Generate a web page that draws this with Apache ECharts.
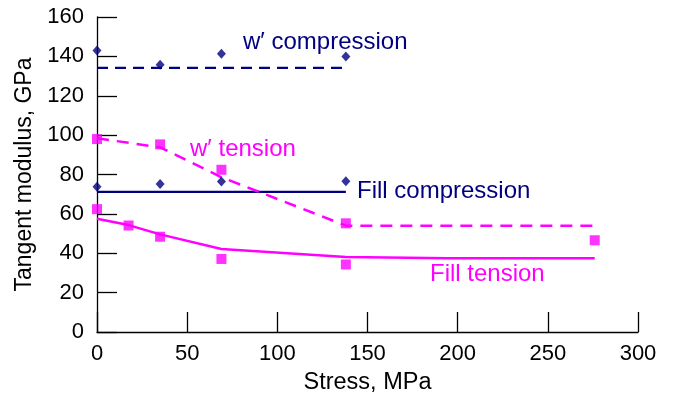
<!DOCTYPE html>
<html>
<head>
<meta charset="utf-8">
<script src="https://cdn.jsdelivr.net/npm/echarts@6/dist/echarts.min.js"></script>
<style>
html,body{margin:0;padding:0;background:#fff;}
#c{width:674px;height:400px;}
</style>
</head>
<body>
<div id="c"></div>
<script>
// Measured points
var wCompX = [0, 35, 69, 138];
var wCompY = [143, 135.7, 141.3, 140];
var wTenX = [0, 35, 69, 138, 276];
var wTenY = [98, 95.3, 82.4, 55.2, 46.6];
var fCompX = [0, 35, 69, 138];
var fCompY = [73.8, 75.2, 76.4, 76.6];
var fTenX = [0, 17.5, 35, 69, 138];
var fTenY = [62.4, 54.1, 48.4, 37.1, 34.3];

// Fitted curves
var wCompFitX = [0, 138];
var wCompFitY = [134.2, 134.2];
var wTenFitX = [0, 35, 69, 138, 276];
var wTenFitY = [98.4, 93.8, 78.6, 54, 54];
var fCompFitX = [0, 138];
var fCompFitY = [71.2, 71.2];
var fTenFitX = [0, 17.5, 35, 69, 138, 195, 276];
var fTenFitY = [57.5, 54.3, 49.6, 42.2, 38.1, 37.5, 37.5];

var xTicks = [0, 50, 100, 150, 200, 250, 300];
var yTicks = [0, 20, 40, 60, 80, 100, 120, 140, 160];

var labels = [
  {text: 'w\u2032 compression', color: '#000080', x: 243, y: 42},
  {text: 'w\u2032 tension', color: '#FF00FF', x: 190, y: 149},
  {text: 'Fill compression', color: '#000080', x: 357, y: 191},
  {text: 'Fill tension', color: '#FF00FF', x: 430, y: 274}
];

function pairs(xs, ys) { return xs.map(function (x, i) { return [x, ys[i]]; }); }

var NAVY = '#000080', MAG = '#FF00FF';
var FONT = 'Liberation Sans, Arial, sans-serif';

var chart = echarts.init(document.getElementById('c'), null, {renderer: 'canvas'});
chart.setOption({
  animation: false,
  backgroundColor: '#ffffff',
  grid: {left: 97, right: 36, top: 17, bottom: 67, containLabel: false},
  xAxis: {
    type: 'value', min: xTicks[0], max: xTicks[xTicks.length - 1], interval: 50,
    name: 'Stress, MPa', nameLocation: 'middle', nameGap: 39,
    nameTextStyle: {fontFamily: FONT, fontSize: 23.5, color: '#000'},
    axisLine: {show: true, lineStyle: {color: '#000', width: 1.3}},
    axisTick: {show: true, inside: true, length: 20, lineStyle: {color: '#000', width: 1.3}},
    axisLabel: {fontFamily: FONT, fontSize: 22, color: '#000', margin: 11},
    splitLine: {show: false}
  },
  yAxis: {
    type: 'value', min: yTicks[0], max: yTicks[yTicks.length - 1], interval: 20,
    name: 'Tangent modulus, GPa', nameLocation: 'middle', nameGap: 54,
    nameTextStyle: {fontFamily: FONT, fontSize: 23, color: '#000'},
    axisLine: {show: true, lineStyle: {color: '#000', width: 1.3}},
    axisTick: {show: true, inside: true, length: 20, lineStyle: {color: '#000', width: 1.3}},
    axisLabel: {fontFamily: FONT, fontSize: 22, color: '#000', margin: 13},
    splitLine: {show: false}
  },
  series: [
    {type: 'line', data: pairs(wCompFitX, wCompFitY), showSymbol: false, symbol: 'none',
      lineStyle: {color: NAVY, width: 2.2, type: [11, 7]}, z: 2},
    {type: 'line', data: pairs(fCompFitX, fCompFitY), showSymbol: false, symbol: 'none',
      lineStyle: {color: NAVY, width: 2.2}, z: 2},
    {type: 'line', data: pairs(wTenFitX, wTenFitY), showSymbol: false, symbol: 'none',
      lineStyle: {color: MAG, width: 2.5, type: [12, 8]}, z: 2},
    {type: 'line', data: pairs(fTenFitX, fTenFitY), showSymbol: false, symbol: 'none',
      lineStyle: {color: MAG, width: 2.5}, z: 2},
    {type: 'scatter', data: pairs(wCompX, wCompY), symbol: 'diamond', symbolSize: [9, 10],
      itemStyle: {color: NAVY}, z: 3},
    {type: 'scatter', data: pairs(fCompX, fCompY), symbol: 'diamond', symbolSize: [9, 10],
      itemStyle: {color: NAVY}, z: 3},
    {type: 'scatter', data: pairs(wTenX, wTenY), symbol: 'rect', symbolSize: 10,
      itemStyle: {color: MAG}, z: 3},
    {type: 'scatter', data: pairs(fTenX, fTenY), symbol: 'rect', symbolSize: 10,
      itemStyle: {color: MAG}, z: 3}
  ],
  graphic: labels.map(function (l) {
    return {
      type: 'text', x: l.x, y: l.y, z: 10,
      style: {text: l.text, fill: l.color, fontFamily: FONT, fontSize: 24,
        verticalAlign: 'middle', align: 'left'}
    };
  })
});
</script>
</body>
</html>
